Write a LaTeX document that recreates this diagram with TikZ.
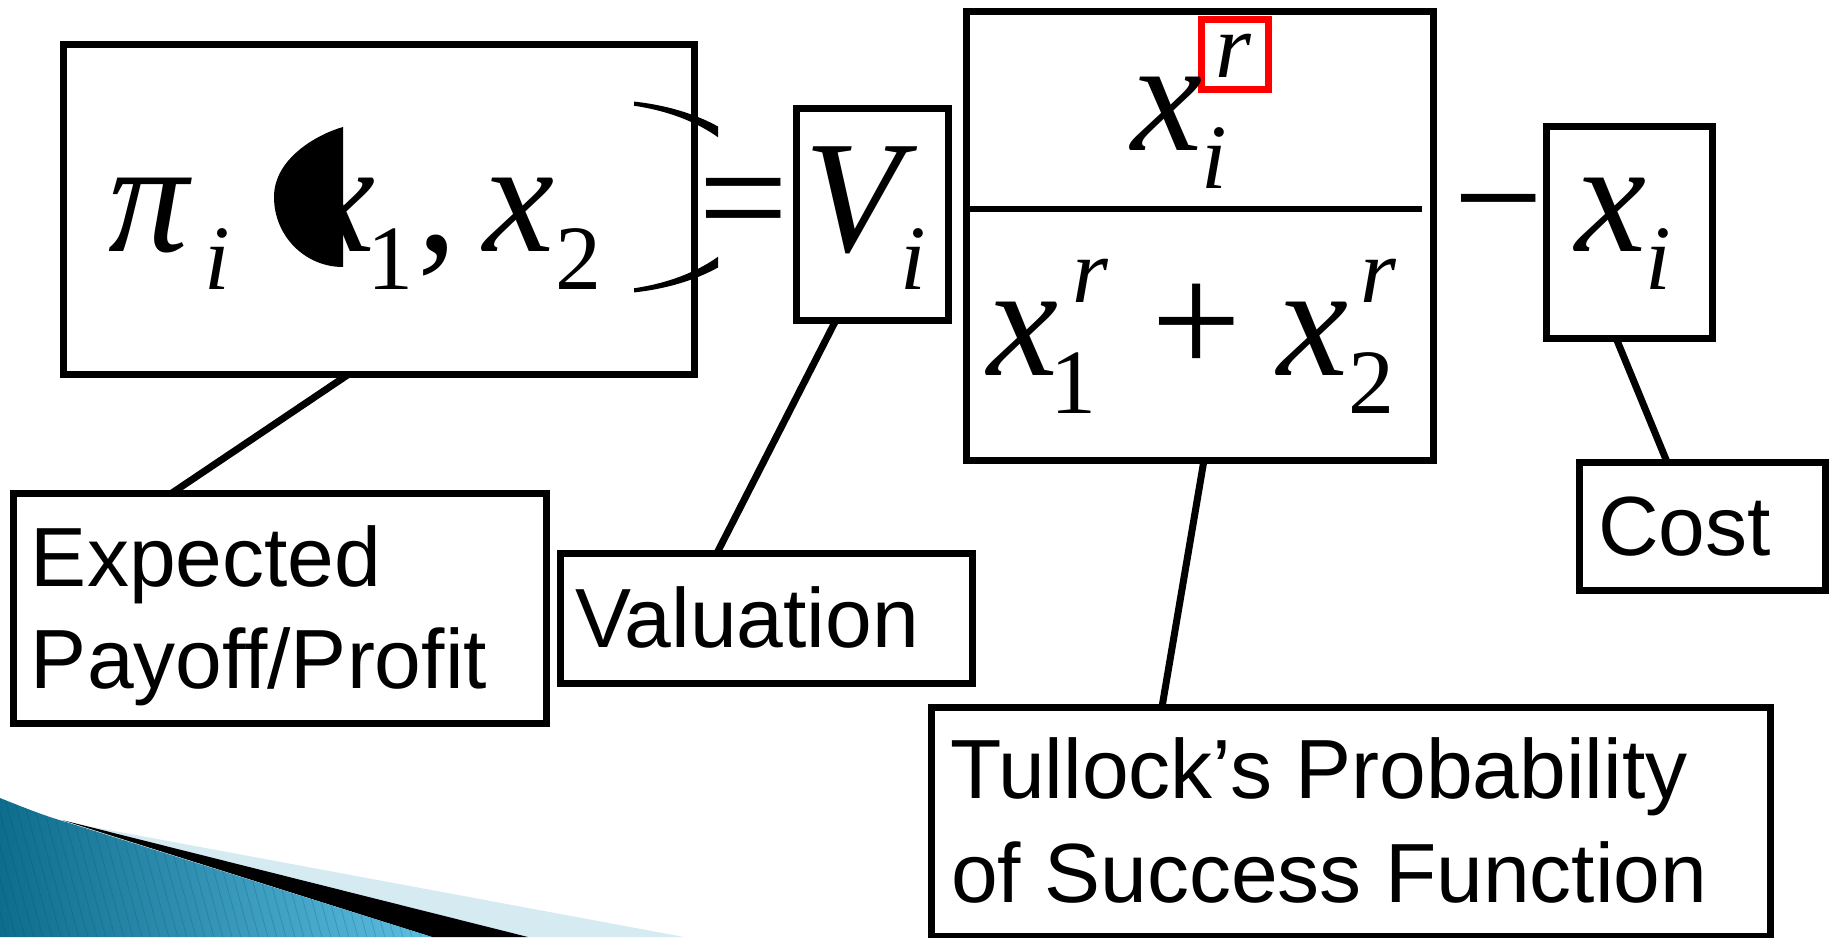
\documentclass[tikz,border=0pt]{standalone}
\usepackage{fontspec}
\setmainfont{Liberation Serif}
\newfontfamily\sansf{Liberation Sans}
\definecolor{swdark}{RGB}{14,108,140}
\definecolor{swlight}{RGB}{95,192,228}
\definecolor{swpale}{RGB}{214,234,242}
\definecolor{swline}{RGB}{10,80,110}
\definecolor{redframe}{RGB}{255,0,0}
\begin{document}
\begin{tikzpicture}[x=0.5pt,y=-0.5pt,
  box/.style={draw,line width=3.5pt,inner sep=0pt,outer sep=0pt},
  link/.style={line width=3.5pt},
  txt/.style={inner sep=0pt,outer sep=0pt,anchor=base west,font=\sansf\fontsize{42}{50}\selectfont},
  mbig/.style={inner sep=0pt,outer sep=0pt,anchor=base west,font=\fontsize{80}{90}\selectfont\itshape},
  msub/.style={inner sep=0pt,outer sep=0pt,anchor=base west,font=\fontsize{46}{52}\selectfont\itshape},
  mbigup/.style={inner sep=0pt,outer sep=0pt,anchor=base west,font=\fontsize{80}{90}\selectfont},
  msubup/.style={inner sep=0pt,outer sep=0pt,anchor=base west,font=\fontsize{46}{52}\selectfont},
]
\useasboundingbox (0,0) rectangle (1835,937);

% background swoosh (bottom left)
\fill[swpale] (66,822) -- (684,937) -- (528,937) -- cycle;
\fill[black] (62,820) -- (528,937) -- (432,937) -- cycle;
\begin{scope}
  \clip (0,798) .. controls (25,808) and (45,816) .. (66,822) -- (432,937) -- (0,937) -- cycle;
  \shade[left color=swdark,right color=swlight] (0,790) rectangle (440,937);
  \foreach \k in {-12,...,50}
    \draw[swline,opacity=0.25,line width=0.4pt] (\k*9,780) -- ++(45,165);
\end{scope}

% boxes
\node[box,minimum width=315.5pt,minimum height=165pt] (pib) at (378.5,209) {};
\node[box,minimum width=76pt,minimum height=106pt] (vb) at (872,214) {};
\node[box,minimum width=233.5pt,minimum height=224.5pt] (fb) at (1199.5,235.5) {};
\node[box,minimum width=83pt,minimum height=106pt] (xb) at (1629,232) {};
\node[box,minimum width=123pt,minimum height=64pt] (costb) at (1702,526) {};
\node[box,minimum width=266.5pt,minimum height=115pt] (expb) at (279.5,608) {};
\node[box,minimum width=206pt,minimum height=65pt] (valb) at (766,618) {};
\node[box,minimum width=419.5pt,minimum height=114.5pt] (tulb) at (1350.5,821.5) {};
\node[box,draw=redframe,minimum width=33.5pt,minimum height=35pt] (redb) at (1234.5,54) {};

% fraction bar
\draw[line width=3.2pt] ([yshift=13.25pt]fb.west) -- ([yshift=13.25pt,xshift=-5.5pt]fb.east);

% connectors
\draw[link] ([xshift=-14.75pt]pib.south) -- ([xshift=-53.75pt]expb.north);
\draw[link] ([xshift=-18pt]vb.south) -- ([xshift=-24.5pt]valb.north);
\draw[link] ([xshift=2.25pt]fb.south) -- ([xshift=-94.25pt]tulb.north);
\draw[link] ([xshift=-6.5pt]xb.south) -- ([xshift=-17.5pt]costb.north);

% pi_i(x_1, x_2)
\node[mbig] (pisym) at (108,251) {π};
\node[msub] (pisub) at (204,289) {i};
\node[mbig] (xone) at (304,251) {x};
\node[msubup] (one) at (367,289) {1};
\node[mbigup] (comma) at (417,251) {,};
\node[mbig] (xtwo) at (483,251) {x};
\node[msubup] (two) at (555,289) {2};
% the distorted parentheses
\fill (343,127) .. controls (318,134) and (274,158) .. (274,197)
      .. controls (274,236) and (305,267) .. (343,267) -- cycle;
\begin{scope}
  \clip (634,95) rectangle (718,300);
  \fill[even odd rule] (604,197) ellipse [x radius=83pt, y radius=48.5pt]
                       (596,197) ellipse [x radius=79pt, y radius=47pt];
\end{scope}

\node[mbigup] (eq) at (698,251) {=};
\node[mbig] (vsym) at (804,251) {V};
\node[msub] (vsub) at (900,289) {i};

% fraction
\node[mbig] (numx) at (1131,150) {x};
\node[msub] (numi) at (1201,188) {i};
\node[msub] (numr) at (1215,77) {r};
\node[mbig] (dx1) at (987,375) {x};
\node[msubup] (d1) at (1050,413) {1};
\node[msub] (dr1) at (1072,302) {r};
\node[mbigup] (plus) at (1151,374) {+};
\node[mbig] (dx2) at (1277,375) {x};
\node[msubup] (d2) at (1348,413) {2};
\node[msub] (dr2) at (1360,302) {r};

\node[mbigup] (minus) at (1453,251) {−};
\node[mbig] (xsym) at (1575,251) {x};
\node[msub] (xsub) at (1645,289) {i};

% labels
\node[txt] (exp1) at (31,586) {Expected};
\node[txt] (exp2) at (31,688) {Payoff/Profit};
\node[txt] (valt) at (575,647) {Valuation};
\node[txt] (costt) at (1598,555) {Cost};
\node[txt] (tul1) at (950,798) {Tullock’s Probability};
\node[txt] (tul2) at (951,902) {of Success Function};
\end{tikzpicture}
\end{document}
